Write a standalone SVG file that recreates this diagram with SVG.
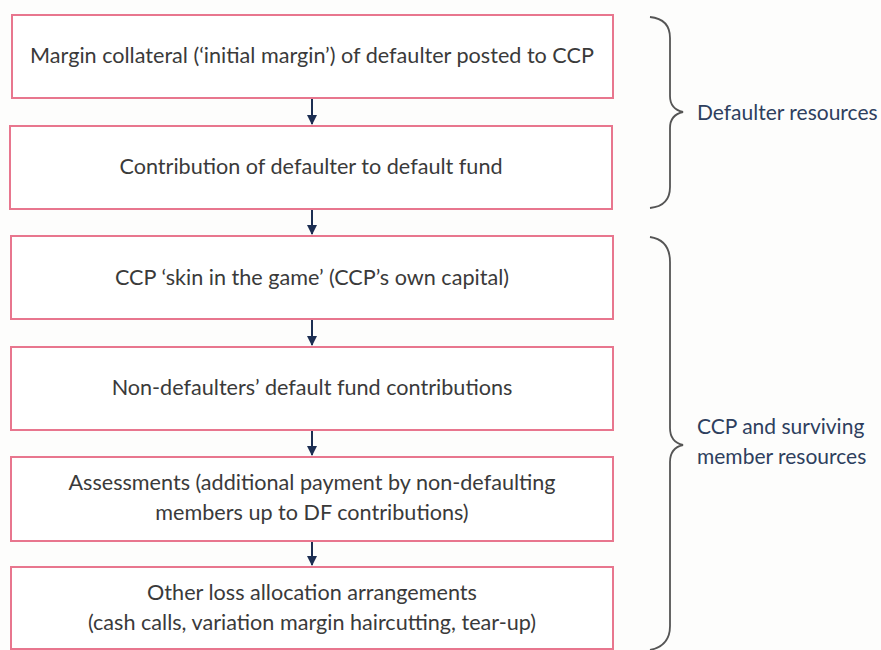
<svg xmlns="http://www.w3.org/2000/svg" width="881" height="650" viewBox="0 0 881 650">
<defs>
<style>
.box{fill:#ffffff;stroke:#e8768e;stroke-width:2}
.t{font-family:Lato,"Open Sans","Liberation Sans",sans-serif;font-size:21.6px;fill:#3a3a3a;text-anchor:middle;dominant-baseline:central}
.lab{font-family:Lato,"Open Sans","Liberation Sans",sans-serif;font-size:21px;fill:#2e3f5e;dominant-baseline:central}
.brace{fill:none;stroke:#555;stroke-width:1.8}
.conn{stroke:#1c2e52;stroke-width:2;fill:none}
</style>
<marker id="ah" viewBox="0 0 10 10" refX="9" refY="5" markerWidth="5" markerHeight="6" orient="auto" markerUnits="strokeWidth">
<path d="M0,0 L10,5 L0,10 z" fill="#1c2e52"/>
</marker>
</defs>
<rect width="881" height="650" fill="#fdfdfc"/>
<g id="node1"><rect class="box" x="12" y="15" width="601" height="83"/><text class="t" x="312" y="55">Margin collateral (‘initial margin’) of defaulter posted to CCP</text></g>
<g id="node2"><rect class="box" x="10" y="126" width="602" height="83"/><text class="t" x="311" y="166">Contribution of defaulter to default fund</text></g>
<g id="node3"><rect class="box" x="11" y="236" width="602" height="83"/><text class="t" x="312" y="277">CCP ‘skin in the game’ (CCP’s own capital)</text></g>
<g id="node4"><rect class="box" x="11" y="347" width="602" height="83"/><text class="t" x="312" y="387">Non-defaulters’ default fund contributions</text></g>
<g id="node5"><rect class="box" x="11" y="457" width="602" height="84"/><text class="t" x="312" y="482">Assessments (additional payment by non-defaulting</text><text class="t" x="312" y="512">members up to DF contributions)</text></g>
<g id="node6"><rect class="box" x="11" y="567" width="602" height="82"/><text class="t" x="312" y="592">Other loss allocation arrangements</text><text class="t" x="312" y="622">(cash calls, variation margin haircutting, tear-up)</text></g>
<g id="connectors">
<line class="conn" x1="312" y1="99" x2="312" y2="124" marker-end="url(#ah)"/>
<line class="conn" x1="312" y1="210" x2="312" y2="234" marker-end="url(#ah)"/>
<line class="conn" x1="312" y1="320" x2="312" y2="345" marker-end="url(#ah)"/>
<line class="conn" x1="312" y1="431" x2="312" y2="455" marker-end="url(#ah)"/>
<line class="conn" x1="312" y1="542" x2="312" y2="565" marker-end="url(#ah)"/>
</g>
<g id="brace1"><path class="brace" d="M650,17 Q670,19 670,38 L670,96 Q670,109 683,112 Q670,115 670,128 L670,187 Q670,206 650,208"/><text class="lab" x="697" y="111">Defaulter resources</text></g>
<g id="brace2"><path class="brace" d="M650,237 Q670,240 670,262 L670,428 Q670,442 683,445 Q670,448 670,462 L670,626 Q670,646 650,650"/><text class="lab" x="697" y="425">CCP and surviving</text><text class="lab" x="697" y="455">member resources</text></g>
</svg>
